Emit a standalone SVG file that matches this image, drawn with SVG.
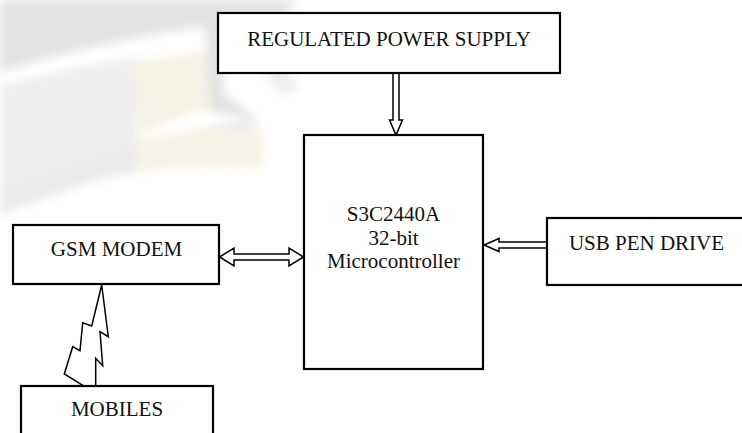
<svg xmlns="http://www.w3.org/2000/svg" width="742" height="433" viewBox="0 0 742 433">
<style>
.box{fill:#fff;stroke:#000;stroke-width:2.2}
.lbl{font-family:"Liberation Serif","Times New Roman",serif;font-size:21px;fill:#111;text-anchor:middle}
.arr{fill:#fff;stroke:#000;stroke-width:1.5;stroke-linejoin:miter}
</style>
<defs>
<filter id="soft" x="-20%" y="-20%" width="140%" height="140%"><feGaussianBlur stdDeviation="5"/></filter>
</defs>
<g id="watermark" filter="url(#soft)">
<path d="M0,0 H300 L280,18 Q140,30 0,72 Z" fill="#e3e3e3"/>
<path d="M0,86 Q90,62 140,58 L135,175 Q60,180 0,200 Z" fill="#eeeeee"/>
<path d="M135,62 Q180,55 210,50 L215,105 Q170,120 140,135 Z" fill="#f6f2e4"/>
<path d="M205,20 L222,15 L224,95 L258,118 L210,112 Z" fill="#e2e2e2"/>
<path d="M0,190 Q120,145 250,118 L262,128 Q150,160 0,215 Z" fill="#ebebeb"/>
<path d="M135,140 Q200,125 265,135 L262,168 Q200,165 140,172 Z" fill="#f7f3e6"/>
<path d="M230,40 Q280,45 300,90 L280,95 Q260,60 232,60 Z" fill="#eeeeee"/>
</g>
<g id="connectors">
<path class="arr" d="M393,74 V120 H389.5 L396,135 L402.5,120 H399 V74"/>
<path class="arr" d="M219.5,257 L234,248 V254 H289 V248 L303.5,257 L289,266 V260 H234 V266 Z"/>
<path class="arr" d="M547,242 H499 V238.5 L484,245 L499,251.5 V248 H547"/>
<path class="arr" d="M101.7,285 L108.3,336.7 L100,331.7 L102.7,365.7 L95.7,358.3 L95.7,393.3 L64.3,374 L72.7,346.7 L80,350.7 L82.7,322.7 L91.7,326 Z" stroke-width="1.6"/>
</g>
<g id="power">
<rect class="box" x="218" y="13" width="342" height="60"/>
<text class="lbl" x="389" y="46">REGULATED POWER SUPPLY</text>
</g>
<g id="micro">
<rect class="box" x="304" y="135" width="179" height="234"/>
<text class="lbl" x="393.5" y="221">S3C2440A</text>
<text class="lbl" x="393.5" y="245">32-bit</text>
<text class="lbl" x="393.5" y="268">Microcontroller</text>
</g>
<g id="gsm">
<rect class="box" x="13" y="225" width="206" height="59"/>
<text class="lbl" x="116.5" y="256">GSM MODEM</text>
</g>
<g id="usb">
<rect class="box" x="547" y="218" width="200" height="67"/>
<text class="lbl" x="646.5" y="250">USB PEN DRIVE</text>
</g>
<g id="mobiles">
<rect class="box" x="21" y="386" width="192" height="60"/>
<text class="lbl" x="117" y="416">MOBILES</text>
</g>
</svg>
